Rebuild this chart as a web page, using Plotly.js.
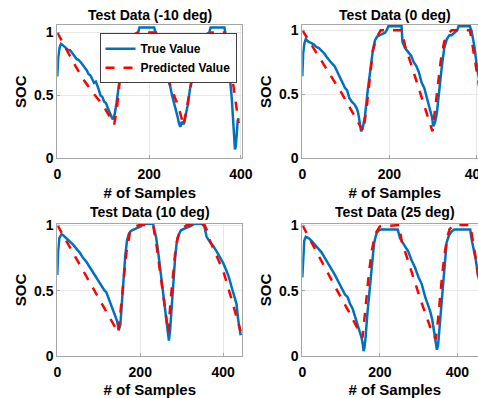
<!DOCTYPE html>
<html>
<head>
<meta charset="utf-8">
<script src="https://cdn.plot.ly/plotly-3.0.1.min.js"></script>
<style>
html,body{margin:0;padding:0;overflow:hidden;background:#fff;}
#chart{width:500px;height:398px;}
</style>
</head>
<body>
<div id="chart"></div>
<script>
// ---- Data ----
const titles = ["Test Data (-10 deg)", "Test Data (0 deg)", "Test Data (10 deg)", "Test Data (25 deg)"];
const seriesNames = ["True Value", "Predicted Value"];
const xTickVals = [0, 200, 400];
const xTickText = ["0", "200", "400"];
const yTickVals = [0, 0.5, 1];
const yTickText = ["0", "0.5", "1"];

// -10 deg
const xTrueM10 = [0,2,5,8,12,18,24,28,33,38,42,47,52,56,60,64,68,72,76,80,84,87,90,94,98,102,106,110,114,118,121,125,129,133,137,142,148,155,162,170,176,179,195,211,214,220,226,230,234,238,242,246,250,254,258,262,265,268,271,275,279,284,289,293,297,302,310,318,326,331,334,350,364,366,370,374,377,380,383,385,387,389,391,393,395];
const yTrueM10 = [0.65,0.80,0.88,0.91,0.90,0.88,0.86,0.86,0.83,0.81,0.79,0.78,0.76,0.74,0.73,0.70,0.67,0.66,0.63,0.60,0.61,0.57,0.55,0.50,0.49,0.45,0.44,0.40,0.36,0.33,0.31,0.35,0.44,0.55,0.66,0.74,0.82,0.89,0.94,0.98,1.00,1.04,1.04,1.04,1.00,0.93,0.84,0.78,0.73,0.67,0.62,0.57,0.50,0.45,0.38,0.33,0.28,0.25,0.29,0.27,0.33,0.42,0.55,0.63,0.73,0.82,0.92,0.97,0.99,1.00,1.04,1.04,1.04,1.00,0.87,0.73,0.60,0.48,0.33,0.18,0.07,0.10,0.22,0.30,0.32];
const xPredM10 = [0,20,40,60,80,100,124,130,136,145,155,165,175,215,225,235,250,264,275,282,289,297,305,315,325,335,365,372,377,385,390,395];
const yPredM10 = [1.0,0.86,0.73,0.61,0.51,0.42,0.27,0.40,0.62,0.80,0.92,0.98,1.0,1.0,0.86,0.70,0.54,0.41,0.26,0.40,0.54,0.70,0.82,0.92,0.98,1.0,1.0,0.88,0.75,0.55,0.40,0.28];

// 0 deg
const xTrue0 = [0,2,5,8,14,20,26,32,38,44,50,56,62,68,74,80,86,92,98,103,108,114,120,125,128,131,135,139,144,150,156,162,167,172,178,185,190,194,198,228,230,236,244,250,256,262,268,274,280,286,290,294,298,301,305,309,314,320,326,332,338,343,350,356,359,385,389,395,401,406,412,418];
const yTrue0 = [0.64,0.82,0.90,0.93,0.91,0.90,0.89,0.87,0.86,0.84,0.82,0.79,0.76,0.74,0.72,0.68,0.64,0.60,0.55,0.53,0.47,0.44,0.42,0.39,0.36,0.30,0.21,0.24,0.33,0.52,0.70,0.84,0.92,0.95,0.96,0.97,0.98,1.00,1.03,1.03,0.91,0.86,0.83,0.80,0.75,0.72,0.67,0.59,0.55,0.47,0.42,0.37,0.32,0.25,0.28,0.35,0.52,0.70,0.86,0.93,0.96,0.96,0.98,1.00,1.03,1.03,0.99,0.88,0.72,0.62,0.55,0.50];
const xPred0 = [0,30,60,90,120,140,148,155,162,170,180,228,236,255,275,299,305,312,318,326,335,343,385,392,400,410,420];
const yPred0 = [1.0,0.84,0.68,0.51,0.33,0.21,0.40,0.62,0.84,0.94,1.0,1.0,0.88,0.68,0.47,0.21,0.38,0.58,0.76,0.91,0.97,1.0,1.0,0.86,0.68,0.48,0.30];

// 10 deg
const xTrue10 = [0,2,5,10,15,22,30,38,46,54,62,70,78,86,94,102,110,114,118,124,130,136,140,144,148,152,156,160,164,168,172,176,180,188,196,202,206,231,234,238,243,248,253,258,263,267,269,272,276,280,284,288,292,298,304,312,320,326,331,353,356,360,368,376,384,392,400,408,414,420,424,428,432,436,439,442];
const yTrue10 = [0.62,0.80,0.90,0.93,0.92,0.90,0.88,0.85,0.82,0.79,0.75,0.72,0.68,0.64,0.60,0.56,0.51,0.50,0.49,0.44,0.40,0.35,0.31,0.27,0.20,0.24,0.42,0.62,0.77,0.88,0.93,0.95,0.96,0.97,0.98,0.99,1.01,1.01,0.96,0.91,0.80,0.67,0.54,0.43,0.28,0.18,0.12,0.20,0.40,0.60,0.75,0.87,0.92,0.96,0.97,0.98,0.99,1.00,1.01,1.01,0.96,0.91,0.87,0.84,0.80,0.76,0.71,0.65,0.60,0.53,0.48,0.43,0.40,0.28,0.20,0.16];
const xPred10 = [0,30,60,90,120,147,151,155,161,167,175,187,199,231,239,253,267.5,273,278,284,290,296,304,312,355,362,368,384,400,416,432,442];
const yPred10 = [1.0,0.83,0.66,0.49,0.33,0.18,0.28,0.42,0.62,0.80,0.94,0.99,1.0,1.0,0.85,0.52,0.18,0.42,0.60,0.78,0.90,0.95,0.98,1.0,1.0,0.95,0.88,0.77,0.65,0.48,0.29,0.19];

// 25 deg
const xTrue25 = [0,2,5,9,16,24,32,41,50,58,67,76,84,93,101,110,117,123,130,136,143,149,153,156,158,160,163,168,175,180,185,189,192,197,203,246,249,252,258,265,273,282,290,300,308,317,323,330,335,338,342,345,347,350,353,358,364,368,372,378,385,392,399,433,436,441,447,453,460,467,474];
const yTrue25 = [0.60,0.78,0.88,0.91,0.90,0.88,0.85,0.82,0.79,0.75,0.71,0.66,0.62,0.57,0.52,0.47,0.45,0.40,0.36,0.30,0.25,0.19,0.14,0.09,0.04,0.06,0.14,0.33,0.55,0.72,0.86,0.91,0.94,0.96,0.965,0.965,0.93,0.90,0.87,0.84,0.80,0.73,0.68,0.60,0.55,0.45,0.40,0.34,0.28,0.22,0.14,0.07,0.05,0.08,0.19,0.40,0.60,0.74,0.865,0.92,0.95,0.965,0.965,0.965,0.90,0.83,0.74,0.62,0.52,0.42,0.33];
const xPred25 = [0,30,60,90,120,155,160,166,172,179,187.6,200,250,256,280,305,330,344,350,355,361,368,374,380,390,433,440,447,453,460,467,474];
const yPred25 = [1.0,0.83,0.66,0.50,0.34,0.14,0.28,0.47,0.64,0.80,0.93,0.99,1.0,0.88,0.66,0.43,0.22,0.13,0.28,0.45,0.63,0.80,0.91,0.97,1.0,1.0,0.88,0.75,0.62,0.50,0.38,0.27];

// ---- Build ----
const blue = "#0072BD", red = "#FF0000";
const FONT = "Liberation Sans, Arial, Helvetica, sans-serif";
const panels = [
  {xt: xTrueM10, yt: yTrueM10, xp: xPredM10, yp: yPredM10, xr: [0, 403], yr: [0, 1.06]},
  {xt: xTrue0,  yt: yTrue0,  xp: xPred0,  yp: yPred0,  xr: [0, 425], yr: [0, 1.04]},
  {xt: xTrue10, yt: yTrue10, xp: xPred10, yp: yPred10, xr: [0, 446], yr: [0, 1.01]},
  {xt: xTrue25, yt: yTrue25, xp: xPred25, yp: yPred25, xr: [0, 477], yr: [0, 1.01]}
];
const W = 500, H = 398;
const colX = [[57.3, 242.3], [302.3, 487.3]];
const rowY = [[25, 158.3], [223.7, 356.3]];
const titleY = [15.5, 212];

const traces = [];
const layout = {
  width: W, height: H,
  margin: {l: 0, r: 0, t: 0, b: 0},
  paper_bgcolor: "#fff", plot_bgcolor: "#fff",
  font: {family: FONT, color: "#000", weight: "bold"},
  showlegend: true,
  legend: {
    x: 99.5 / W, y: 1 - 33.3 / H, xanchor: "left", yanchor: "top",
    bgcolor: "#fff", bordercolor: "#404040", borderwidth: 1,
    font: {family: FONT, size: 12, color: "#000", weight: "bold"},
    tracegroupgap: 0, itemwidth: 30
  },
  annotations: []
};

panels.forEach((p, i) => {
  const r = Math.floor(i / 2), c = i % 2;
  const sfx = i === 0 ? "" : String(i + 1);
  const xa = "x" + sfx, ya = "y" + sfx;
  traces.push({x: p.xt, y: p.yt, xaxis: xa, yaxis: ya, type: "scatter", mode: "lines",
    name: seriesNames[0], line: {color: blue, width: 2.5}, showlegend: i === 0, legendgroup: "t"});
  traces.push({x: p.xp, y: p.yp, xaxis: xa, yaxis: ya, type: "scatter", mode: "lines",
    name: seriesNames[1], line: {color: red, width: 2.5, dash: "dash"}, showlegend: i === 0, legendgroup: "p"});
  const axCommon = {
    showline: true, mirror: true, linecolor: "#a6a6a6", linewidth: 1,
    showgrid: true, gridcolor: "#e8e8e8", gridwidth: 1, zeroline: false,
    ticks: "inside", ticklen: 3, tickcolor: "#a6a6a6",
    tickfont: {family: FONT, size: 14, color: "#000", weight: "bold"},
    tickmode: "array", fixedrange: true, automargin: false
  };
  layout["xaxis" + sfx] = Object.assign({}, axCommon, {
    domain: [colX[c][0] / W, colX[c][1] / W], range: p.xr, anchor: ya,
    tickvals: xTickVals, ticktext: xTickText, ticklabelstandoff: 3,
    title: {text: "# of Samples", font: {family: FONT, size: 15, color: "#000", weight: "bold"}, standoff: 6}
  });
  layout["yaxis" + sfx] = Object.assign({}, axCommon, {
    domain: [1 - rowY[r][1] / H, 1 - rowY[r][0] / H], range: p.yr, anchor: xa,
    tickvals: yTickVals, ticktext: yTickText,
    title: {text: "SOC", font: {family: FONT, size: 15, color: "#000", weight: "bold"}, standoff: 3}
  });
  layout.annotations.push({
    text: titles[i], xref: "paper", yref: "paper",
    x: (colX[c][0] + colX[c][1]) / 2 / W, y: 1 - titleY[r] / H,
    xanchor: "center", yanchor: "middle", showarrow: false,
    font: {family: FONT, size: 14, color: "#000", weight: "bold"}
  });
});

Plotly.newPlot("chart", traces, layout, {displayModeBar: false, staticPlot: true});
</script>
</body>
</html>
